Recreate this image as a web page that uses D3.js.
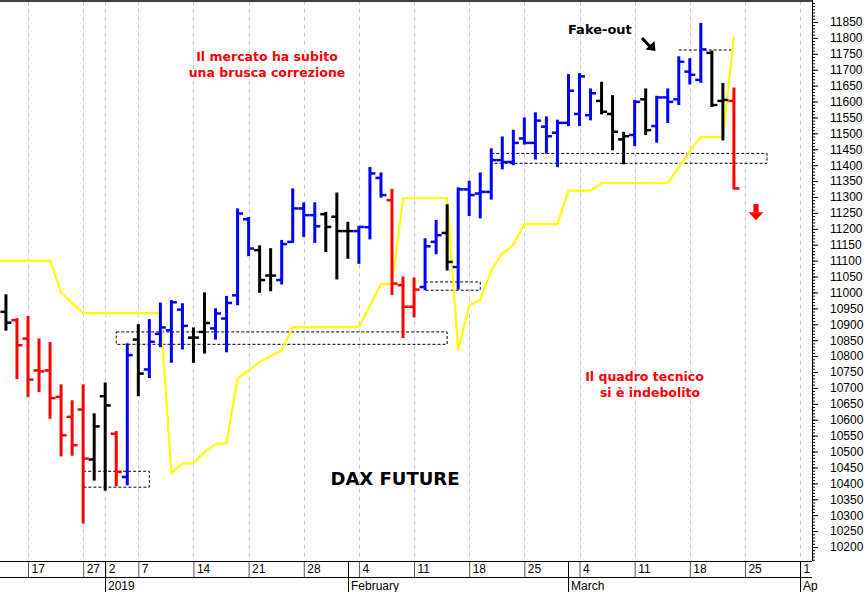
<!DOCTYPE html>
<html><head><meta charset="utf-8">
<script src="https://cdn.jsdelivr.net/npm/d3@7"></script>
<style>body{margin:0;background:#fff;}svg{display:block;}</style>
</head><body>
<svg id="c" width="866" height="592"></svg>
<script>
// ---------------- DATA ----------------
const dates = ["2018-12-12","2018-12-13","2018-12-14","2018-12-17","2018-12-18","2018-12-19","2018-12-20","2018-12-21","2018-12-27","2018-12-28",
"2019-01-02","2019-01-03","2019-01-04","2019-01-07","2019-01-08","2019-01-09","2019-01-10","2019-01-11","2019-01-14","2019-01-15","2019-01-16","2019-01-17","2019-01-18",
"2019-01-21","2019-01-22","2019-01-23","2019-01-24","2019-01-25","2019-01-28","2019-01-29","2019-01-30","2019-01-31","2019-02-01",
"2019-02-04","2019-02-05","2019-02-06","2019-02-07","2019-02-08","2019-02-11","2019-02-12","2019-02-13","2019-02-14","2019-02-15",
"2019-02-18","2019-02-19","2019-02-20","2019-02-21","2019-02-22","2019-02-25","2019-02-26","2019-02-27","2019-02-28","2019-03-01",
"2019-03-04","2019-03-05","2019-03-06","2019-03-07","2019-03-08","2019-03-11","2019-03-12","2019-03-13","2019-03-14","2019-03-15",
"2019-03-18","2019-03-19","2019-03-20","2019-03-21","2019-03-22","2019-03-25","2019-03-26","2019-03-27","2019-03-28","2019-03-29","2019-04-01"];

const open  = [null,10939,10913,10855,10755,10755,10672,10609,10632,10475,10674,10556,10420,10852,10758,10870,10881,10946,10858,10876,10887,10918,10991,11230,11133,11053,11039,11159,11264,11243,11246,11238,11193,11193,11205,11360,11290,11023,10955,11017,11159,11187,11080,11324,11311,11316,11416,11410,11484,11470,11521,11502,11533,11561,11557,11602,11561,11481,11495,11607,11523,11613,11607,11694,11668,11753,11602,11602];
const high  = [null,10991,10916,10923,10852,10841,10708,10658,10708,10617,10714,10561,10837,10897,10913,10965,10973,10963,10887,10997,10947,10986,11261,11234,11145,11136,11162,11324,11280,11280,11250,11311,11219,11206,11391,11374,11322,11047,11044,11167,11225,11274,11327,11348,11374,11450,11487,11508,11547,11563,11550,11540,11683,11686,11638,11659,11617,11502,11602,11638,11615,11638,11739,11733,11844,11757,11655,11641];
const low   = [null,10883,10731,10674,10690,10606,10488,10490,10277,10412,10380,10394,10397,10677,10734,10831,10782,10824,10782,10811,10855,10815,10963,11117,11002,11007,11028,11159,11177,11159,11130,11044,11109,11093,11170,11301,10995,10860,10925,11010,11123,11072,11012,11243,11236,11295,11390,11403,11468,11421,11439,11397,11526,11526,11544,11563,11450,11406,11463,11498,11474,11536,11592,11657,11662,11586,11481,11327];
const close = [null,10905,10834,10726,10752,10668,10551,10520,10478,10579,10645,10436,10803,10745,10845,10890,10969,10895,10858,10904,10934,10967,11248,11138,11039,11053,11152,11264,11243,11208,11206,11193,11193,11206,11374,11306,11028,10955,11009,11145,11180,11096,11324,11306,11316,11416,11410,11470,11470,11540,11491,11533,11634,11679,11626,11568,11505,11491,11599,11510,11613,11599,11725,11684,11764,11589,11605,11327];
// bar colour class: b = blue, r = red, k = black
const barClass = [null,"k","r","r","r","r","r","r","r","k","k","r","b","k","b","b","b","b","k","k","b","b","b","b","k","k","b","b","b","b","k","k","k","b","b","b","r","r","r","b","b","k","b","b","b","b","b","b","b","b","b","b","b","b","b","k","k","k","b","k","b","b","b","b","b","k","k","r"];
// yellow stop line
const stopLine = [11100,11100,11100,11100,11100,11100,11000,10966,10935,10935,10935,10935,10935,10935,10935,10935,10432,10463,10463,10498,10523,10526,10730,10755,10781,10800,10818,10891,10891,10891,10891,10891,10891,10891,10960,11026,11026,11296,11296,11296,11296,11296,10818,10960,10976,11070,11123,11149,11215,11215,11215,11215,11320,11320,11320,11344,11344,11344,11344,11344,11344,11344,11394,11444,11488,11488,11488,11803];

// dashed support/resistance boxes
const boxStart = ["2018-12-27","2019-01-03","2019-02-12","2019-02-20"];
const boxEnd   = ["2019-01-08","2019-02-14","2019-02-19","2019-03-27"];
const boxTop   = [10438,10876,11033,11437];
const boxBottom= [10388,10837,11007,11406];
const fakeLineDates = ["2019-03-15","2019-03-22"];
const fakeLineLevel = 11762;

// axis ticks
const tickDates  = ["2018-12-17","2018-12-27","2019-01-02","2019-01-07","2019-01-14","2019-01-21","2019-01-28","2019-02-04","2019-02-11","2019-02-18","2019-02-25","2019-03-04","2019-03-11","2019-03-18","2019-03-25","2019-04-01"];
const tickLabels = ["17","27","2","7","14","21","28","4","11","18","25","4","11","18","25","1"];
const monthDates  = ["2019-01-02","2019-02-01","2019-03-01","2019-04-01"];
const monthLabels = ["2019","February","March","April"];
const yTickValues = [10200,10250,10300,10350,10400,10450,10500,10550,10600,10650,10700,10750,10800,10850,10900,10950,11000,11050,11100,11150,11200,11250,11300,11350,11400,11450,11500,11550,11600,11650,11700,11750,11800,11850];

// ---------------- CHART ----------------
const svg = d3.select("#c");
const plotR = 812, plotT = 1, plotB = 561;
const x = d3.scaleLinear().domain([1, 73]).range([5.94, 800.1]);
const y = d3.scaleLinear().domain([10200, 11850]).range([547, 22]);
const di = d => dates.indexOf(d);
const colors = {b:"#0000ff", r:"#ff0000", k:"#000000"};

const defs = svg.append("defs");
defs.append("clipPath").attr("id","plotclip")
  .append("rect").attr("x",0).attr("y",plotT).attr("width",plotR).attr("height",plotB-plotT);
defs.append("clipPath").attr("id","axclip")
  .append("rect").attr("x",0).attr("y",plotB).attr("width",818).attr("height",40);

// vertical dashed grid
svg.append("g").selectAll("line").data(tickDates).join("line")
  .attr("x1", d => Math.round(x(di(d))) + 0.5).attr("x2", d => Math.round(x(di(d))) + 0.5)
  .attr("y1", plotT).attr("y2", plotB)
  .attr("stroke", "#c9c9ee").attr("stroke-width", 1).attr("stroke-dasharray", "4,4");

const plot = svg.append("g").attr("clip-path","url(#plotclip)");

// dashed boxes
plot.append("g").selectAll("rect").data(boxStart).join("rect")
  .attr("x", (d,i) => x(di(d)))
  .attr("width", (d,i) => x(di(boxEnd[i])) - x(di(d)))
  .attr("y", (d,i) => y(boxTop[i]))
  .attr("height", (d,i) => y(boxBottom[i]) - y(boxTop[i]))
  .attr("fill","none").attr("stroke","#000").attr("stroke-width",1).attr("stroke-dasharray","3,2");
plot.append("line")
  .attr("x1", x(di(fakeLineDates[0]))).attr("x2", x(di(fakeLineDates[1])))
  .attr("y1", y(fakeLineLevel)).attr("y2", y(fakeLineLevel))
  .attr("stroke","#000").attr("stroke-width",1).attr("stroke-dasharray","3,2");

// yellow stop line
plot.append("path").datum(stopLine)
  .attr("d", d3.line().x((d,i) => x(i)).y(d => y(d)))
  .attr("fill","none").attr("stroke","#ffff00").attr("stroke-width",2.2);

// OHLC bars
const barIdx = d3.range(open.length).filter(i => open[i] !== null);
const bars = plot.append("g").selectAll("g").data(barIdx).join("g")
  .attr("stroke", i => colors[barClass[i]]).attr("stroke-width", 3);
bars.append("line").attr("x1", i => x(i)).attr("x2", i => x(i))
  .attr("y1", i => y(high[i]) - 1).attr("y2", i => y(low[i]) + 1);
bars.append("line").attr("x1", i => x(i) - 5.5).attr("x2", i => x(i))
  .attr("y1", i => y(open[i])).attr("y2", i => y(open[i])).attr("stroke-width", 2.5);
bars.append("line").attr("x1", i => x(i)).attr("x2", i => x(i) + 5.5)
  .attr("y1", i => y(close[i])).attr("y2", i => y(close[i])).attr("stroke-width", 2.5);

// frame
svg.append("line").attr("x1",0).attr("x2",plotR).attr("y1",1).attr("y2",1).attr("stroke","#000").attr("stroke-width",1.5);

// Y axis (right)
const yMinor = d3.range(10160, 11911, 10);
svg.append("g").attr("transform",`translate(${plotR},0)`)
  .call(d3.axisRight(y).tickValues(yMinor).tickSize(3).tickFormat("").tickSizeOuter(0))
  .call(g => g.select(".domain").remove());
const yAx = svg.append("g").attr("transform",`translate(${plotR},0)`)
  .call(d3.axisRight(y).tickValues(yTickValues).tickSize(6).tickPadding(12).tickFormat(d3.format("d")).tickSizeOuter(0));
yAx.select(".domain").remove();
yAx.selectAll("text").attr("font-family","'Liberation Sans', Arial, sans-serif").attr("font-size",12).attr("fill","#000");
svg.append("line").attr("x1",plotR+0.5).attr("x2",plotR+0.5).attr("y1",0).attr("y2",plotB).attr("stroke","#000");

// X axis
const xAxOuter = svg.append("g").attr("clip-path","url(#axclip)");
const xAx = xAxOuter.append("g").attr("transform",`translate(0,${plotB})`);
xAx.call(d3.axisBottom(x).tickValues(tickDates.map(di)).tickSize(16).tickSizeOuter(0).tickFormat((d,i) => tickLabels[i]));
xAx.select(".domain").remove();
xAx.selectAll(".tick line").attr("stroke","#555");
xAx.selectAll("text").attr("text-anchor","start").attr("x",3).attr("y",3).attr("dy","0.71em")
  .attr("font-family","'Liberation Sans', Arial, sans-serif").attr("font-size",12).attr("fill","#000");
svg.append("line").attr("x1",0).attr("x2",plotR).attr("y1",plotB+0.5).attr("y2",plotB+0.5).attr("stroke","#000");
svg.append("line").attr("x1",0).attr("x2",plotR).attr("y1",577.5).attr("y2",577.5).attr("stroke","#000");
xAxOuter.append("g").selectAll("line").data(monthDates).join("line")
  .attr("x1", d => Math.round(x(di(d)))+0.5).attr("x2", d => Math.round(x(di(d)))+0.5)
  .attr("y1", plotB).attr("y2", 592).attr("stroke","#000");
xAxOuter.append("g").selectAll("text").data(monthDates).join("text")
  .attr("x", d => Math.round(x(di(d))) + 3).attr("y", 590)
  .attr("font-family","'Liberation Sans', Arial, sans-serif").attr("font-size",12).attr("fill","#000")
  .text((d,i) => monthLabels[i]);

// annotations
const ann = svg.append("g").attr("font-family","'DejaVu Sans', Verdana, sans-serif").attr("font-weight","bold");
ann.append("text").attr("x",267).attr("y",61).attr("text-anchor","middle").attr("font-size",12.5).attr("fill","#ff0000").text("Il mercato ha subito");
ann.append("text").attr("x",267).attr("y",77).attr("text-anchor","middle").attr("font-size",12.5).attr("fill","#ff0000").text("una brusca correzione");
ann.append("text").attr("x",644.5).attr("y",381).attr("text-anchor","middle").attr("font-size",12.5).attr("fill","#ff0000").text("Il quadro tecnico");
ann.append("text").attr("x",650).attr("y",397).attr("text-anchor","middle").attr("font-size",12.5).attr("fill","#ff0000").text("si è indebolito");
ann.append("text").attr("x",395).attr("y",485).attr("text-anchor","middle").attr("font-size",18).attr("fill","#000").text("DAX FUTURE");
ann.append("text").attr("x",568).attr("y",34).attr("font-size",13).attr("fill","#000").text("Fake-out");

// black arrow
svg.append("line").attr("x1",642).attr("y1",38).attr("x2",650).attr("y2",46.5).attr("stroke","#000").attr("stroke-width",3);
svg.append("path").attr("d","M655.5,51 L645.5,49.5 L654.5,41 Z").attr("fill","#000");

// red down arrow (anchored to data scale)
const ax = x(di("2019-03-26"));
svg.append("rect").attr("x",ax-2.5).attr("y",y(11278)).attr("width",5).attr("height",y(11252)-y(11278)).attr("fill","#ff0000");
svg.append("path").attr("d",`M${ax-7.5},${y(11252)} L${ax+7.5},${y(11252)} L${ax},${y(11227)} Z`).attr("fill","#ff0000");
</script>
</body></html>
